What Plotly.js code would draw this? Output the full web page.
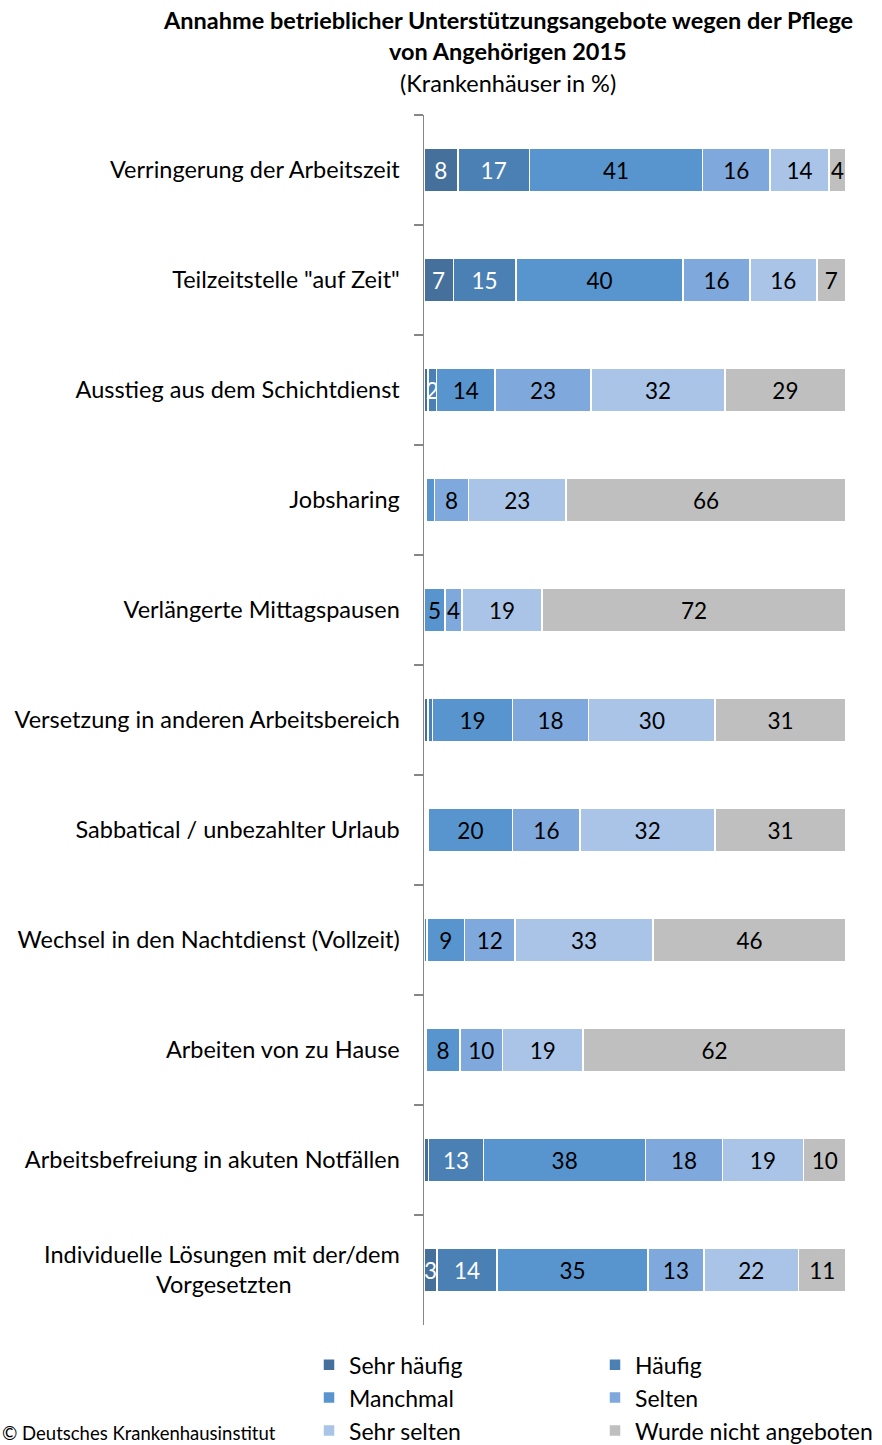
<!DOCTYPE html>
<html>
<head>
<meta charset="utf-8">
<script src="https://cdn.plot.ly/plotly-3.0.1.min.js"></script>
<style>html,body{margin:0;padding:0;background:#fff;}</style>
</head>
<body>
<div id="chart" style="width:882px;height:1445px;"></div>
<script>
const categories = [
  "Verringerung der Arbeitszeit",
  "Teilzeitstelle \"auf Zeit\"",
  "Ausstieg aus dem Schichtdienst",
  "Jobsharing",
  "Verlängerte Mittagspausen",
  "Versetzung in anderen Arbeitsbereich",
  "Sabbatical / unbezahlter Urlaub",
  "Wechsel in den Nachtdienst (Vollzeit)",
  "Arbeiten von zu Hause",
  "Arbeitsbefreiung in akuten Notfällen",
  "Individuelle Lösungen mit der/dem<br>Vorgesetzten" + "&nbsp;".repeat(18)
];
const seriesNames = ["Sehr häufig","Häufig","Manchmal","Selten","Sehr selten","Wurde nicht angeboten"];
const sehrHaeufig = [8, 7, 1, 0, 0, 1, 0.5, 0, 0, 1, 3];
const haeufig     = [17, 15, 2, 0.5, 0, 1, 0.5, 0.7, 0.5, 13, 14];
const manchmal    = [41, 40, 14, 2, 5, 19, 20, 9, 8, 38, 35];
const selten      = [16, 16, 23, 8, 4, 18, 16, 12, 10, 18, 13];
const sehrSelten  = [14, 16, 32, 23, 19, 30, 32, 33, 19, 19, 22];
const nichtAngeboten = [4, 7, 29, 66, 72, 31, 31, 46, 62, 10, 11];
// labels of small segments that are not written in the chart: [series index, row index]
const hiddenLabels = [[0,2],[2,3]];

const seriesValues = [sehrHaeufig, haeufig, manchmal, selten, sehrSelten, nichtAngeboten];
const colors = ["#45709c","#4b80b5","#5895cf","#7fa9dc","#a9c4e7","#bfbfbf"];
const textColors = ["#ffffff","#ffffff","#000000","#000000","#000000","#000000"];
const FONT = "Lato, 'Open Sans', sans-serif";

const traces = seriesValues.map((vals, si) => ({
  type: "bar",
  orientation: "h",
  name: seriesNames[si],
  y: categories,
  x: vals,
  text: vals.map((v, ri) => (v >= 1.5 && !hiddenLabels.some(h => h[0] === si && h[1] === ri)) ? String(v) : ""),
  texttemplate: "%{text}",
  textposition: "inside",
  insidetextanchor: "middle",
  constraintext: "none",
  textfont: {family: FONT, size: 22.5, color: textColors[si]},
  marker: {color: colors[si], line: {color: "#ffffff", width: 1.5}},
  hoverinfo: "skip"
}));

const layout = {
  width: 882, height: 1445,
  margin: {l: 424, r: 36, t: 115, b: 120, autoexpand: false},
  barmode: "stack",
  barnorm: "percent",
  bargap: 0.6,
  paper_bgcolor: "#ffffff",
  plot_bgcolor: "#ffffff",
  font: {family: FONT, size: 23, color: "#000"},
  showlegend: true,
  xaxis: {visible: false, range: [0, 100], fixedrange: true},
  yaxis: {
    autorange: "reversed",
    showline: true, linecolor: "#868686", linewidth: 1.5,
    ticks: "outside", tickson: "boundaries", ticklen: 9, tickcolor: "#868686", tickwidth: 1.5,
    ticklabelstandoff: 18,
    tickfont: {family: FONT, size: 23.5, color: "#000"},
    showgrid: false, zeroline: false, fixedrange: true
  },
  legend: {
    orientation: "h",
    x: -0.2725, xanchor: "left",
    y: -0.0151, yanchor: "top",
    entrywidth: 241, entrywidthmode: "pixels",
    font: {family: FONT, size: 23, color: "#000"},
    traceorder: "normal",
    itemclick: false, itemdoubleclick: false
  },
  annotations: [
    {text: "<b>Annahme betrieblicher Unterstützungsangebote wegen der Pflege</b>", yshift: 95},
    {text: "<b>von Angehörigen 2015</b>", yshift: 64},
    {text: "(Krankenhäuser in %)", yshift: 32}
  ].map(a => ({
    text: a.text, xref: "paper", yref: "paper", x: (508 - 424) / 422, xanchor: "center",
    y: 1, yanchor: "middle", yshift: a.yshift, showarrow: false,
    font: {family: FONT, size: 23.5, color: "#000"}
  })).concat([
    {text: "© Deutsches Krankenhausinstitut", xref: "paper", yref: "paper", x: (0 - 424) / 422, xanchor: "left",
     y: 0, yanchor: "middle", yshift: -108, showarrow: false, font: {family: FONT, size: 18.5, color: "#000"}}
  ])
};

Plotly.newPlot("chart", traces, layout, {displayModeBar: false, staticPlot: true});
</script>
</body>
</html>
